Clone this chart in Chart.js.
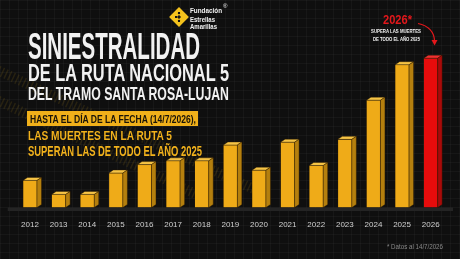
<!DOCTYPE html>
<html>
<head>
<meta charset="utf-8">
<script src="https://cdn.jsdelivr.net/npm/chart.js@4.4.1/dist/chart.umd.min.js"></script>
<style>
body { margin: 0; background: #0e0e0e; }
#wrap {
    position: relative; width: 460px; height: 259px; overflow: hidden;
    background-color: #0f0f0f;
    background-image:
        linear-gradient(rgba(255,255,255,0.03) 1px, transparent 1px),
        linear-gradient(90deg, rgba(255,255,255,0.03) 1px, transparent 1px);
    background-size: 9px 9px;
}
canvas { position: absolute; left: 0; top: 0; }
.t {
    position: absolute; white-space: nowrap; transform-origin: 0 0;
    font-family: "Liberation Sans", Arial, sans-serif; font-weight: bold; line-height: 1;
}
.white { color: #f2f2f2; }
.gold { color: #f2b21c; }
#box { position: absolute; left: 27px; top: 111px; width: 171px; height: 15px; background: #f0b01a; }
#logo {
    position: absolute; left: 172px; top: 10px; width: 14px; height: 14px;
    background: #f4c21c; transform: rotate(45deg);
    background-image:
        radial-gradient(circle at 30% 30%, #111 1.2px, transparent 1.6px),
        radial-gradient(circle at 50% 50%, #111 1.4px, transparent 1.8px),
        radial-gradient(circle at 70% 70%, #111 1.2px, transparent 1.6px),
        radial-gradient(circle at 35% 65%, #111 1px, transparent 1.4px);
}
</style>
</head>
<body>
<div id="wrap">
    <canvas id="chart" width="460" height="259"></canvas>

    <div id="logo"></div>
    <div class="t white fit" style="left:190px;top:6.5px;font-size:7px;" data-w="32">Fundación</div>
    <div class="t white" style="left:223px;top:3px;font-size:6px;font-weight:normal;">®</div>
    <div class="t white fit" style="left:190px;top:15.5px;font-size:7px;" data-w="25">Estrellas</div>
    <div class="t white fit" style="left:190px;top:22.5px;font-size:7px;" data-w="27">Amarillas</div>

    <div class="t white fit" style="left:28px;top:29px;font-size:36px;" data-w="172">SINIESTRALIDAD</div>
    <div class="t white fit" style="left:28px;top:60.6px;font-size:24.6px;" data-w="201">DE LA RUTA NACIONAL 5</div>
    <div class="t white fit" style="left:28px;top:85.9px;font-size:17.8px;" data-w="201">DEL TRAMO SANTA ROSA-LUJAN</div>

    <div id="box"></div>
    <div class="t fit" style="left:30px;top:113.7px;font-size:11.3px;color:#1a1408;" data-w="166">HASTA EL DÍA DE LA FECHA (14/7/2026),</div>
    <div class="t gold fit" style="left:28px;top:129.4px;font-size:13.7px;" data-w="144">LAS MUERTES EN LA RUTA 5</div>
    <div class="t gold fit" style="left:28px;top:143.3px;font-size:15px;" data-w="174">SUPERAN LAS DE TODO EL AÑO 2025</div>

    <div class="t fitc" style="top:12.7px;font-size:13.7px;color:#e3171b;" data-w="29" data-cx="397">2026*</div>
    <div class="t white fitc" style="top:27.5px;font-size:6.2px;" data-w="50" data-cx="396">SUPERA LAS MUERTES</div>
    <div class="t white fitc" style="top:35.9px;font-size:6.2px;" data-w="47" data-cx="396">DE TODO EL AÑO 2025</div>

    <div class="t fit" style="left:387px;top:242.5px;font-size:7px;font-weight:normal;color:#8a8a8a;" data-w="56">* Datos al 14/7/2026</div>
</div>

<script>
// datos (altura relativa de cada barra)
var years = ['2012', '2013', '2014', '2015', '2016', '2017', '2018', '2019', '2020', '2021', '2022', '2023', '2024', '2025', '2026'];
var deaths = [29, 14, 14, 37, 46, 50, 50, 67, 40, 70, 45, 73, 115, 153, 160];

// ajustar el ancho de los textos condensados
document.querySelectorAll('.fit, .fitc').forEach(function(el) {
    var target = parseFloat(el.getAttribute('data-w'));
    var w = el.getBoundingClientRect().width;
    el.style.transform = 'scaleX(' + (target / w) + ')';
    if (el.classList.contains('fitc')) {
        el.style.left = (parseFloat(el.getAttribute('data-cx')) - target / 2) + 'px';
    }
});

var lastIdx = years.length - 1;

// huellas de neumático en el fondo + plataforma + efecto 3D de las barras
var decor = {
    id: 'decor',
    beforeDraw: function(chart) {
        var ctx = chart.ctx;
        ctx.save();
        ctx.setLineDash([1.5, 2.5]);
        ctx.lineWidth = 10;
        ctx.strokeStyle = 'rgba(190,150,30,0.14)';
        [[-20, 62, 260, 192], [-20, 92, 200, 196]].forEach(function(l) {
            ctx.beginPath();
            ctx.moveTo(l[0], l[1]);
            ctx.lineTo(l[2], l[3]);
            ctx.stroke();
        });
        ctx.restore();
    },
    beforeDatasetsDraw: function(chart) {
        var ctx = chart.ctx;
        var y0 = chart.scales.y.getPixelForValue(0);
        ctx.save();
        ctx.fillStyle = '#242424';
        ctx.fillRect(chart.chartArea.left - 8, y0, chart.chartArea.width + 16, 3.5);
        ctx.restore();
    },
    afterDatasetsDraw: function(chart) {
        var ctx = chart.ctx;
        var dx = 4.5, dy = 3;
        chart.getDatasetMeta(0).data.forEach(function(bar, i) {
            var p = bar.getProps(['x', 'y', 'base', 'width'], true);
            var l = p.x - p.width / 2, r = p.x + p.width / 2;
            var red = i === lastIdx;
            ctx.save();
            ctx.strokeStyle = 'rgba(40,25,0,0.7)';
            ctx.lineWidth = 0.6;
            // cara superior
            ctx.fillStyle = red ? '#f23030' : '#f6c445';
            ctx.beginPath();
            ctx.moveTo(l, p.y); ctx.lineTo(l + dx, p.y - dy);
            ctx.lineTo(r + dx, p.y - dy); ctx.lineTo(r, p.y);
            ctx.closePath(); ctx.fill(); ctx.stroke();
            // cara lateral
            ctx.fillStyle = red ? '#a80a0a' : '#b47f0e';
            ctx.beginPath();
            ctx.moveTo(r, p.y); ctx.lineTo(r + dx, p.y - dy);
            ctx.lineTo(r + dx, p.base - dy); ctx.lineTo(r, p.base);
            ctx.closePath(); ctx.fill(); ctx.stroke();
            ctx.restore();
        });
    }
};

var ctx = document.getElementById('chart').getContext('2d');
var chart = new Chart(ctx, {
    type: 'bar',
    data: {
        labels: years,
        datasets: [{
            data: deaths,
            backgroundColor: function(c) { return c.dataIndex === lastIdx ? '#e80c0c' : '#efab18'; },
            borderColor: 'rgba(60,38,0,0.6)',
            borderWidth: 0.6,
            barThickness: 14
        }]
    },
    options: {
        responsive: false,
        animation: false,
        layout: { padding: { top: 39.5, left: 15.7, right: 15, bottom: 25.9 } },
        plugins: { legend: { display: false }, tooltip: { enabled: false } },
        scales: {
            x: {
                grid: { display: false },
                border: { display: false },
                ticks: {
                    color: '#cfcfcf',
                    padding: 4,
                    maxRotation: 0,
                    autoSkip: false,
                    font: { family: 'Liberation Sans', size: 8 }
                }
            },
            y: { display: false, min: 0, max: 180 }
        }
    },
    plugins: [decor, {
        id: 'arrow',
        afterDraw: function(chart) {
            var c = chart.ctx;
            c.save();
            c.strokeStyle = '#e3171b';
            c.fillStyle = '#e3171b';
            c.lineWidth = 1.2;
            c.beginPath();
            c.moveTo(418, 23.5);
            c.quadraticCurveTo(434, 27, 434.5, 41);
            c.stroke();
            c.beginPath();
            c.moveTo(431.5, 40); c.lineTo(437.5, 40); c.lineTo(434.6, 45.5);
            c.closePath(); c.fill();
            c.restore();
        }
    }]
});
</script>
</body>
</html>
